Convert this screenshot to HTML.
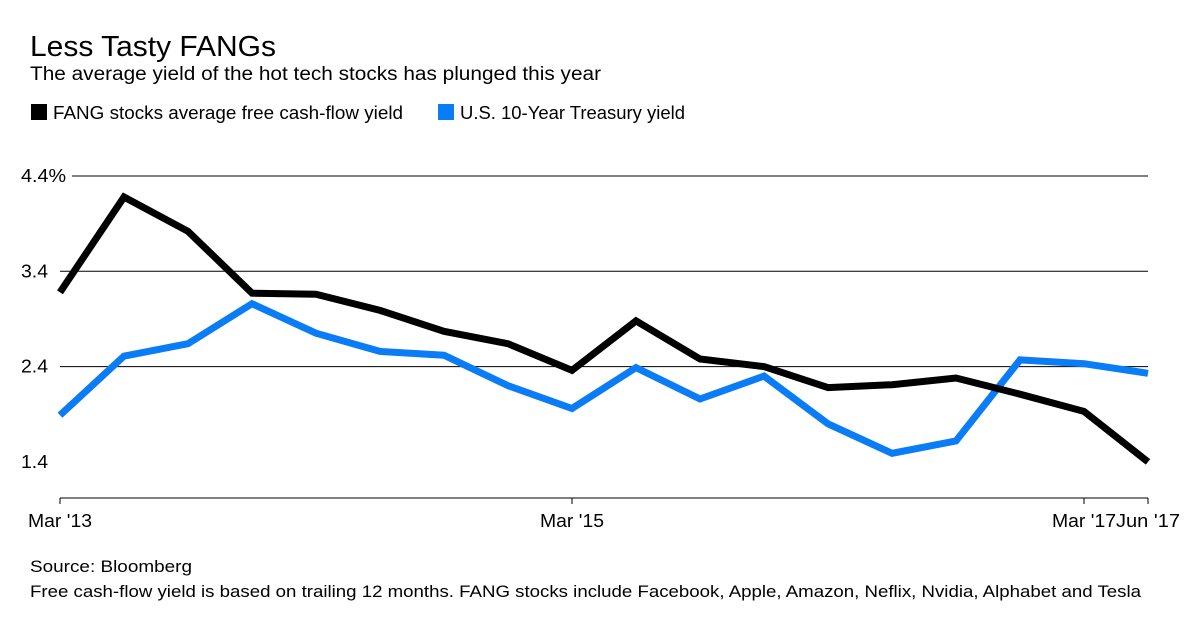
<!DOCTYPE html>
<html><head><meta charset="utf-8"><style>
body{margin:0;background:#fff;font-family:"Liberation Sans",sans-serif;}
svg text{font-family:"Liberation Sans",sans-serif;}
</style></head><body>
<svg width="1200" height="635">
<text x="30" y="56" font-size="29" textLength="246" lengthAdjust="spacingAndGlyphs" fill="#000">Less Tasty FANGs</text>
<text x="30" y="80" font-size="19" textLength="571" lengthAdjust="spacingAndGlyphs" fill="#000">The average yield of the hot tech stocks has plunged this year</text>
<g>
<rect x="31" y="104" width="16" height="16" fill="#000"/>
<text x="53" y="119" font-size="18" textLength="350" lengthAdjust="spacingAndGlyphs">FANG stocks average free cash-flow yield</text>
<rect x="438" y="104" width="16" height="16" fill="#0a7cf6"/>
<text x="460" y="119" font-size="18" textLength="225" lengthAdjust="spacingAndGlyphs">U.S. 10-Year Treasury yield</text>
</g>
<g id="grid"></g><g id="xaxis"></g><g id="series"></g>
<text x="30" y="572" font-size="17" textLength="162" lengthAdjust="spacingAndGlyphs">Source: Bloomberg</text>
<text x="30" y="597" font-size="17" textLength="1111" lengthAdjust="spacingAndGlyphs">Free cash-flow yield is based on trailing 12 months. FANG stocks include Facebook, Apple, Amazon, Neflix, Nvidia, Alphabet and Tesla</text>
</svg>
<script>
const fangValues=[3.18,4.18,3.82,3.17,3.16,2.99,2.77,2.64,2.36,2.88,2.48,2.40,2.18,2.21,2.28,2.11,1.93,1.40];
const treasuryValues=[1.89,2.51,2.64,3.06,2.75,2.56,2.52,2.20,1.96,2.39,2.06,2.30,1.80,1.49,1.62,2.47,2.43,2.33];
const yTicks=[1.4,2.4,3.4,4.4];
const yTickLabels=["1.4","2.4","3.4","4.4%"];
const xTickIndex=[0,8,16,17];
const xTickLabels=["Mar '13","Mar '15","Mar '17","Jun '17"];
const NS="http://www.w3.org/2000/svg";
const x0=60,x1=1148,n=fangValues.length;
function xs(i){return x0+(x1-x0)*i/(n-1);}
function ys(v){return 176+(4.4-v)*95.3;}
function mk(t,a,p){const e=document.createElementNS(NS,t);for(const k in a)e.setAttribute(k,a[k]);p.appendChild(e);return e;}
const grid=document.getElementById('grid');
yTicks.forEach((v,i)=>{
 const pct=yTickLabels[i].length>3;
 if(i>0){
  const l=mk('line',{x1:pct?72:60,x2:1148,y1:ys(v),y2:ys(v),stroke:'#000','stroke-width':1},grid);
  
  
 }
 const t=mk('text',{x:21,y:ys(v)+6,'font-size':18,textLength:pct?45:27,lengthAdjust:'spacingAndGlyphs'},grid);
 t.textContent=yTickLabels[i];
 
 
});
const xa=document.getElementById('xaxis');
const base=mk('line',{x1:60,x2:1148,y1:498,y2:498,stroke:'#000','stroke-width':1},xa);


xTickIndex.forEach((idx,i)=>{
 const tk=mk('line',{x1:xs(idx),x2:xs(idx),y1:498,y2:504,stroke:'#000'},xa);
 
 
 let x=xs(idx);
 if(idx===17)x+=0;
 const t=mk('text',{x:x,y:527,'font-size':18,'text-anchor':'middle',textLength:64,lengthAdjust:'spacingAndGlyphs'},xa);
 t.textContent=xTickLabels[i];
 
 
});
const sg=document.getElementById('series');
function line(vals,color,name){
 const d=vals.map((v,i)=>(i?'L':'M')+xs(i).toFixed(1)+','+ys(v).toFixed(1)).join('');
 const p=mk('path',{d:d,fill:'none',stroke:color,'stroke-width':7,'stroke-linejoin':'miter'},sg);
 
 
}
line(treasuryValues,'#0a7cf6','treasury-line');
line(fangValues,'#000','fang-line');
</script>
</body></html>
